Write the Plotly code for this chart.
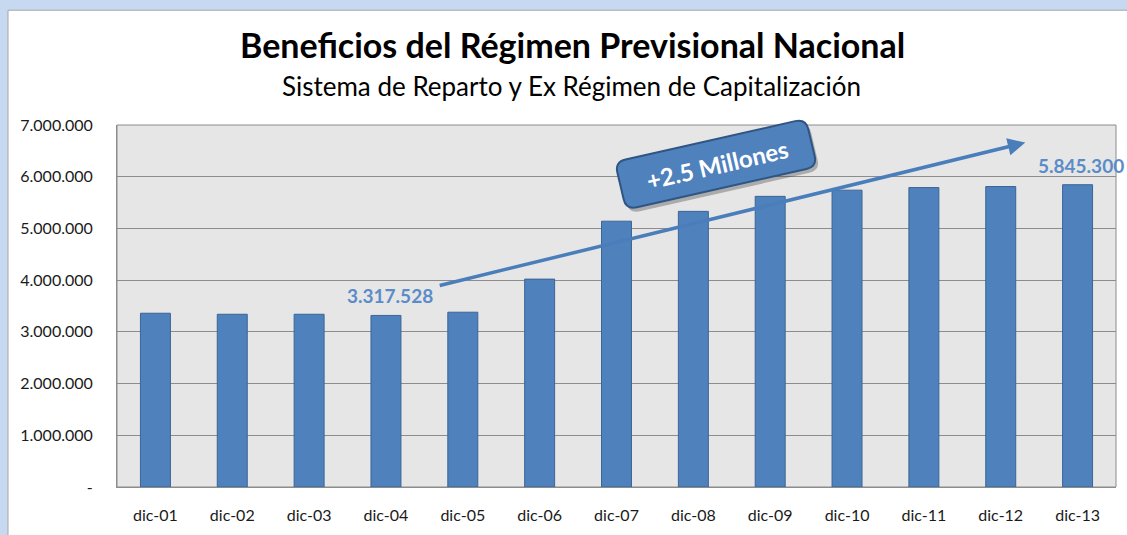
import math
import plotly.graph_objects as go

categories = ["dic-01", "dic-02", "dic-03", "dic-04", "dic-05", "dic-06", "dic-07",
              "dic-08", "dic-09", "dic-10", "dic-11", "dic-12", "dic-13"]
values = [3360000, 3340000, 3340000, 3317528, 3380000, 4020000, 5140000,
          5330000, 5620000, 5740000, 5790000, 5810000, 5845300]
tick_vals = [0, 1000000, 2000000, 3000000, 4000000, 5000000, 6000000, 7000000]
tick_text = ["-", "1.000.000", "2.000.000", "3.000.000", "4.000.000",
             "5.000.000", "6.000.000", "7.000.000"]
title = "Beneficios del Régimen Previsional Nacional"
subtitle = "Sistema de Reparto y Ex Régimen de Capitalización"
growth_label = "+2.5 Millones"

def fmt(v):
    return f"{v:,}".replace(",", ".")

W, H = 1127, 535
L, R, T, B = 117, 11, 125, 41
pw, ph = W - L - R, H - T - B

def px(x):
    return (x - L) / pw

def py(y):
    return (H - B - y) / ph

def rounded_box_path(cx, cy, w, h, r, ang_deg, dx=0, dy=0):
    """Rotated rounded rectangle, pixel geometry -> paper-coordinate SVG path."""
    a = math.radians(ang_deg)
    ca, sa = math.cos(a), math.sin(a)

    def tr(u, v):
        X = cx + dx + u * ca - v * sa
        Y = cy + dy + u * sa + v * ca
        return f"{px(X):.5f},{py(Y):.5f}"

    hw, hh = w / 2, h / 2
    p = [f"M{tr(-hw + r, -hh)}",
         f"L{tr(hw - r, -hh)}", f"Q{tr(hw, -hh)} {tr(hw, -hh + r)}",
         f"L{tr(hw, hh - r)}", f"Q{tr(hw, hh)} {tr(hw - r, hh)}",
         f"L{tr(-hw + r, hh)}", f"Q{tr(-hw, hh)} {tr(-hw, hh - r)}",
         f"L{tr(-hw, -hh + r)}", f"Q{tr(-hw, -hh)} {tr(-hw + r, -hh)}", "Z"]
    return " ".join(p)

FONT = "Lato, 'Open Sans', sans-serif"
BLUE = "#4f81bd"

fig = go.Figure()
fig.add_trace(go.Bar(
    x=list(range(len(categories))), y=values,
    marker=dict(color=BLUE, line=dict(color="#3a6596", width=1)),
    width=0.39, hoverinfo="x+y"))

BOX_C = (716, 165)
BOX_ANG = -13

shapes = [
    # white frame
    dict(type="rect", xref="paper", yref="paper", x0=px(8), x1=px(1140), y0=py(560), y1=py(8),
         fillcolor="white", line=dict(color="#a6a6a6", width=1), layer="below"),
    # plot background
    dict(type="rect", xref="paper", yref="paper", x0=0, x1=1, y0=0, y1=1,
         fillcolor="#e6e6e6", line=dict(color="#8c8c8c", width=1), layer="below"),
    # callout shadow
    dict(type="path", xref="paper", yref="paper",
         path=rounded_box_path(BOX_C[0], BOX_C[1], 196, 50, 11, BOX_ANG, 3, 4),
         fillcolor="rgba(60,60,60,0.35)", line=dict(width=0), layer="above"),
    # callout box
    dict(type="path", xref="paper", yref="paper",
         path=rounded_box_path(BOX_C[0], BOX_C[1], 196, 50, 11, BOX_ANG),
         fillcolor=BLUE, line=dict(color="#2f5583", width=2), layer="above"),
]

i_min = values.index(min(values))
i_last = len(values) - 1

annotations = [
    dict(text=f"<b>{title}</b>", xref="paper", yref="paper", x=px(572), y=py(43),
         showarrow=False, font=dict(family=FONT, size=34, color="black"),
         xanchor="center", yanchor="middle"),
    dict(text=subtitle, xref="paper", yref="paper", x=px(571), y=py(85),
         showarrow=False, font=dict(family=FONT, size=26, color="black"),
         xanchor="center", yanchor="middle"),
    # arrow
    dict(x=11.32, y=6660000, ax=3.68, ay=3890000, xref="x", yref="y", axref="x", ayref="y",
         text="", showarrow=True, arrowhead=2, arrowsize=1.0, arrowwidth=3.5,
         arrowcolor="#4a7ebb"),
    dict(text=f"<b>{fmt(values[i_min])}</b>", x=i_min + 0.05, y=3700000, xref="x", yref="y",
         showarrow=False, font=dict(family=FONT, size=19, color="#5b8cc8"),
         xanchor="center", yanchor="middle"),
    dict(text=f"<b>{fmt(values[i_last])}</b>", x=i_last + 0.05, y=6220000, xref="x", yref="y",
         showarrow=False, font=dict(family=FONT, size=19, color="#5b8cc8"),
         xanchor="center", yanchor="middle"),
    dict(text=f"<b>{growth_label}</b>", xref="paper", yref="paper",
         x=px(BOX_C[0] + 1), y=py(BOX_C[1]),
         showarrow=False, textangle=BOX_ANG, font=dict(family=FONT, size=24, color="white"),
         xanchor="center", yanchor="middle"),
]

fig.update_layout(
    width=W, height=H,
    margin=dict(l=L, r=R, t=T, b=B, pad=0),
    paper_bgcolor="#c6d9f0", plot_bgcolor="rgba(0,0,0,0)",
    showlegend=False, bargap=0.6,
    shapes=shapes, annotations=annotations,
    xaxis=dict(tickmode="array", tickvals=list(range(len(categories))), ticktext=categories,
               range=[-0.5, len(categories) - 0.5], showgrid=False, ticks="",
               tickfont=dict(family=FONT, size=16, color="#1a1a1a"),
               showline=True, linecolor="#8c8c8c", linewidth=1, ticklabelstandoff=14),
    yaxis=dict(tickmode="array", tickvals=tick_vals, ticktext=tick_text, range=[0, 7000000],
               showgrid=True, gridcolor="#8c8c8c", gridwidth=1, zeroline=False,
               tickfont=dict(family=FONT, size=16, color="#1a1a1a"),
               showline=True, linecolor="#8c8c8c", linewidth=1, ticks="",
               ticklabelstandoff=20),
)

fig.write_html("out.html", config={"displayModeBar": False},
               post_script="document.body.style.margin='0';document.body.style.overflow='hidden';")
